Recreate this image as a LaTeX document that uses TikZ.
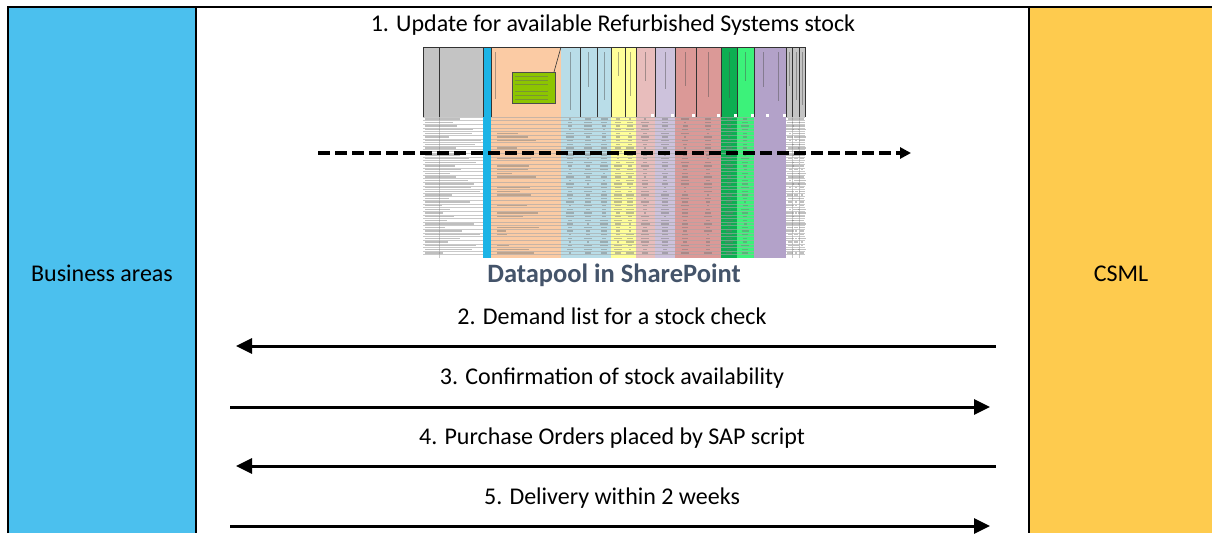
\documentclass[tikz,border=0pt]{standalone}
\usepackage{fontspec}
\setmainfont{Carlito}
\usetikzlibrary{arrows.meta}

% side columns and labels
\definecolor{areablue}{HTML}{4BC0EE}
\definecolor{areayellow}{HTML}{FECB4E}
\definecolor{slate}{HTML}{44546A}
% spreadsheet column fills
\definecolor{hdrgrey}{HTML}{C4C4C4}
\definecolor{keycyan}{HTML}{1CB4E6}
\definecolor{peach}{HTML}{FBCBA4}
\definecolor{paleblue}{HTML}{B9DDE8}
\definecolor{paleyellow}{HTML}{FFFF99}
\definecolor{rosepink}{HTML}{E8BDBC}
\definecolor{lavender}{HTML}{CDC2DC}
\definecolor{salmon}{HTML}{DB9997}
\definecolor{deepgreen}{HTML}{0DAE52}
\definecolor{brightgreen}{HTML}{3CF27A}
\definecolor{violet}{HTML}{B3A2C9}
\definecolor{notegreen}{HTML}{8DC500}

\begin{document}
\begin{tikzpicture}[x=1pt,y=-1pt,
  lbl/.style={font=\fontsize{24}{29}\selectfont, inner sep=0pt, anchor=base},
  frame/.style={line width=2pt},
  flow/.style={line width=3pt, -{Triangle[length=16pt,width=15pt]}},
  sync/.style={line width=4.5pt, dash pattern=on 12pt off 5pt,
               -{Triangle[length=11pt,width=11pt]}},
  celltext/.style={fill=black!55, opacity=0.45},
  rowline/.style={draw=black!35, line width=0.3pt, opacity=0.6},
  colline/.style={draw=black!80, line width=0.6pt}
]
\useasboundingbox (0,0) rectangle (1212,533);

% ---- participant columns ----
\fill[areablue] (8,7) rectangle (196,533);
\fill[areayellow] (1029,7) rectangle (1212,533);
\draw[frame] (8,533) -- (8,7) -- (1212,7);
\draw[frame] (196,7) -- (196,533);
\draw[frame] (1029,7) -- (1029,533);

\node[lbl] (business) at (102,281) {Business areas};
\node[lbl] (csml) at (1121,281) {CSML};

% ---- step 1: shared spreadsheet ----
\node[lbl] (step1) at (613,31) {1. Update for available Refurbished Systems stock};

\begin{scope}
  % header band and body
  \fill[hdrgrey] (423,47) rectangle (483,117);
  \fill[white] (423,117) rectangle (483,258);
  \fill[keycyan] (483,47) rectangle (491,258);
  \fill[peach] (491,47) rectangle (561,258);
  \fill[paleblue] (561,47) rectangle (611,258);
  \fill[paleyellow] (611,47) rectangle (636,258);
  \fill[rosepink] (636,47) rectangle (655,258);
  \fill[lavender] (655,47) rectangle (675,258);
  \fill[salmon] (675,47) rectangle (721,258);
  \fill[deepgreen] (721,47) rectangle (737,258);
  \fill[brightgreen] (737,47) rectangle (754,258);
  \fill[violet] (754,47) rectangle (786,258);
  \fill[hdrgrey] (786,47) rectangle (805,117);
  \fill[white] (786,117) rectangle (805,258);

  % row grid
  \foreach \r in {0,...,38} {
    \pgfmathsetmacro{\yy}{117+\r*3.62}
    \draw[rowline] (423,\yy) -- (483,\yy);
    \draw[rowline] (491,\yy) -- (754,\yy);
    \draw[rowline] (786,\yy) -- (805,\yy);
  }
  \foreach \x in {439,792,799} \draw[rowline] (\x,117) -- (\x,258);

  % header column rules
  \foreach \x in {423,439,483,491,580,597,611,625,636,655,675,696,721,737,754,786,792,799,805}
    \draw[colline] (\x,47) -- (\x,117);
  \draw[colline] (423,47) -- (805,47);

  % vertical header captions
  \pgfmathsetseed{11}
  \foreach \x in {495,570,588,604,618,630,645,665,685,708,729,745,763,778,789,796,802} {
    \pgfmathsetmacro{\h}{22+rnd*38}
    \draw[black!70, line width=1pt, opacity=0.45] (\x,52) -- (\x,52+\h);
  }
  % filter buttons
  \foreach \x in {652,672,693,718,735,752,767,784}
    \fill[white] (\x-1.5,113.5) rectangle ++(3,3);

  % comment box
  \draw[black!80, line width=0.6pt] (554,72) -- (561,47);
  \fill[notegreen, draw=black!70, line width=0.6pt] (512,72) rectangle (555,103);
  \foreach \yy in {76,80,84,91,95,99}
    \fill[black!60, opacity=0.5] (515,\yy) rectangle ++(33,1);

  % cell contents
  \pgfmathsetseed{5}
  \foreach \r in {0,...,37} {
    \pgfmathsetmacro{\yy}{118.2+\r*3.62}
    \pgfmathsetmacro{\wa}{16+rnd*40}
    \fill[celltext] (425,\yy) rectangle ++(\wa,1.4);
    \pgfmathsetmacro{\wb}{8+rnd*36}
    \pgfmathsetmacro{\sk}{rnd}
    \ifdim\sk pt>0.35pt \fill[celltext] (497,\yy) rectangle ++(\wb,1.4); \fi
    \foreach \c in {570,588,604,618,630,645,665,685,708,729,745,790,796,802} {
      \pgfmathsetmacro{\wc}{2+rnd*7}
      \fill[celltext] (\c-\wc/2,\yy) rectangle ++(\wc,1.4);
    }
  }
\end{scope}

\node[font=\fontsize{26.5}{31}\selectfont\bfseries, text=slate, inner sep=0pt, anchor=base]
  (pool) at (614,282) {Datapool in SharePoint};

\coordinate (syncL) at (318,153);
\coordinate (syncR) at (911,153);
\draw[sync] (syncL) -- (syncR);

% ---- steps 2 to 5 ----
\coordinate (r2) at (996,346);  \coordinate (l2) at (236,346);
\coordinate (l3) at (230,407);  \coordinate (r3) at (990,407);
\coordinate (r4) at (996,466);  \coordinate (l4) at (236,466);
\coordinate (l5) at (230,526);  \coordinate (r5) at (990,526);

\node[lbl] (step2) at (612,324) {2. Demand list for a stock check};
\draw[flow] (r2) -- (l2);
\node[lbl] (step3) at (612,384) {3. Confirmation of stock availability};
\draw[flow] (l3) -- (r3);
\node[lbl] (step4) at (612,444) {4. Purchase Orders placed by SAP script};
\draw[flow] (r4) -- (l4);
\node[lbl] (step5) at (612,504) {5. Delivery within 2 weeks};
\draw[flow] (l5) -- (r5);
\end{tikzpicture}
\end{document}
